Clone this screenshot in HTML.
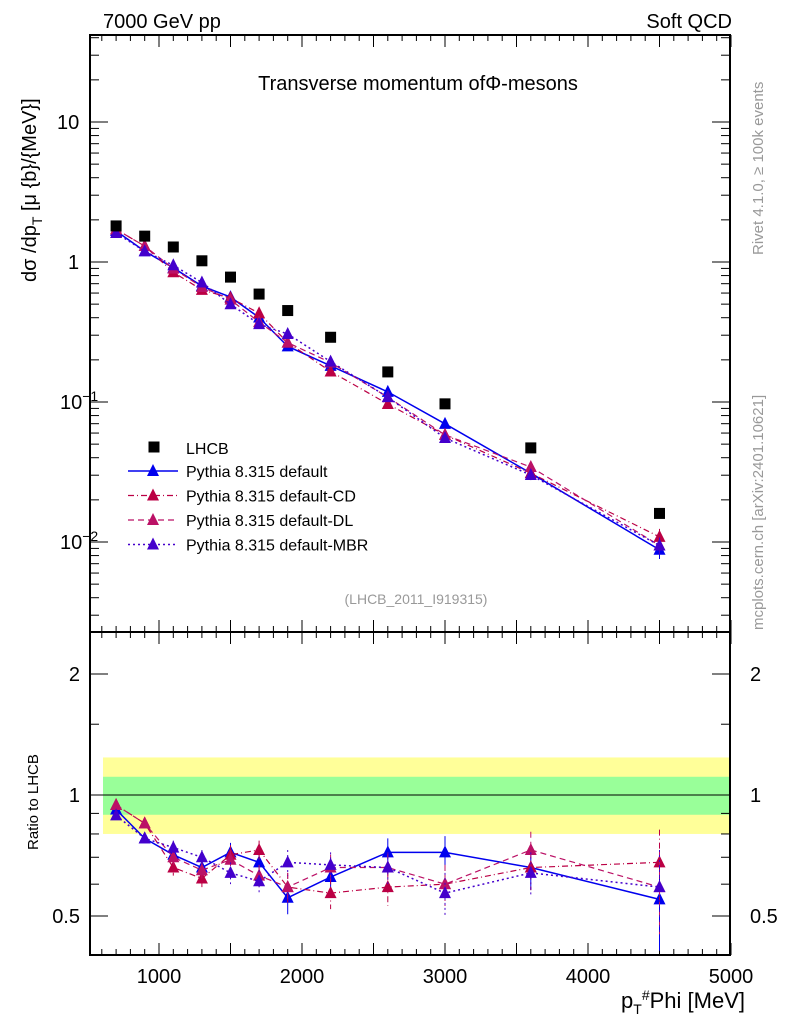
<!DOCTYPE html>
<html><head><meta charset="utf-8"><style>
body{margin:0;background:#fff;}
svg text{font-family:"Liberation Sans",sans-serif;}
</style></head><body>
<svg id="c" width="786" height="1024" xmlns="http://www.w3.org/2000/svg"></svg>
<script>
const xs=[700,900,1100,1300,1500,1700,1900,2200,2600,3000,3600,4500];
const dataVals=[1.81,1.53,1.28,1.02,0.78,0.59,0.45,0.29,0.164,0.097,0.047,0.016];
const rDefault=[0.92,0.78,0.71,0.66,0.72,0.68,0.555,0.625,0.72,0.72,0.66,0.55];
const rCD=[0.944,0.85,0.66,0.62,0.71,0.73,0.59,0.57,0.59,0.60,0.66,0.68];
const rDL=[0.944,0.85,0.70,0.65,0.69,0.63,0.59,0.66,0.66,0.60,0.73,0.59];
const rMBR=[0.89,0.78,0.74,0.70,0.64,0.61,0.68,0.67,0.66,0.57,0.64,0.59];
const rErr=[0.02,0.02,0.03,0.03,0.04,0.04,0.05,0.05,0.06,0.07,0.08,0.14];
const xTicks=[1000,2000,3000,4000,5000];
const yTicks=[10,1,0.1,0.01];
const rTicks=[2,1,0.5];

const NS="http://www.w3.org/2000/svg",svg=document.getElementById('c');
function el(t,a,p){const e=document.createElementNS(NS,t);for(const k in a)e.setAttribute(k,a[k]);(p||svg).appendChild(e);return e;}
const L=90,R=730,T=35,M=632,B=955;
const X=v=>159+(v-1000)*0.143;
const Y=v=>262-Math.log10(v)*140;
const YR=v=>795-Math.log2(v)*121;

// bands
const band=el('g',{});


el('rect',{x:103,y:YR(1.24),width:R-103,height:YR(0.80)-YR(1.24),fill:'#ffff99'},band);
el('rect',{x:103,y:YR(1.11),width:R-103,height:YR(0.893)-YR(1.11),fill:'#99ff99'},band);
el('line',{x1:L,x2:R,y1:YR(1),y2:YR(1),stroke:'#000','stroke-width':1},band);

// frames
[[T,M],[M,B]].forEach((f,i)=>{const r=el('rect',{x:L,y:f[0],width:R-L,height:f[1]-f[0],fill:'none',stroke:'#000','stroke-width':2});
});

// x ticks
for(let v=600;v<=5000;v+=100){const big=v%500===0;const x=X(v);
 [[T,1],[M,-1],[M,1],[B,-1]].forEach(([y,d])=>el('line',{x1:x,x2:x,y1:y,y2:y+d*(big?12:6),stroke:'#000','stroke-width':1}));}
xTicks.forEach(v=>{const t=el('text',{x:X(v),y:983,'font-size':20,'text-anchor':'middle'});t.textContent=v;
 });
// y log ticks
for(let d=-3;d<=1;d++)for(let m=1;m<10;m++){const v=m*Math.pow(10,d);const y=Y(v);if(y<T||y>M)continue;const w=m===1?18:9;
 el('line',{x1:L,x2:L+w,y1:y,y2:y,stroke:'#000'});el('line',{x1:R,x2:R-w,y1:y,y2:y,stroke:'#000'});}
const ylab=['10','1','10<tspan dy="-8" font-size="14">−1</tspan>','10<tspan dy="-8" font-size="14">−2</tspan>'];
const ylx=[57,68,60,60];
yTicks.forEach((v,i)=>{const t=el('text',{x:ylx[i],y:Y(v)+7,'font-size':20});t.innerHTML=ylab[i];
 });
// ratio ticks
[0.5,0.6,0.7,0.8,0.9,1,1.5,2].forEach(v=>{const y=YR(v);const w=(v===0.5||v===1||v===2)?18:9;
 el('line',{x1:L,x2:L+w,y1:y,y2:y,stroke:'#000'});el('line',{x1:R,x2:R-w,y1:y,y2:y,stroke:'#000'});});
rTicks.forEach(v=>{[[80,'end'],[750,'start']].forEach(([x,a])=>{const t=el('text',{x:x,y:YR(v)+7,'font-size':20,'text-anchor':a});t.textContent=v;
 });});

// texts
function txt(s,a,name){const t=el('text',a);t.innerHTML=s;return t;}
txt('7000 GeV pp',{x:103,y:28,'font-size':20},'energy-label');
txt('Soft QCD',{x:732,y:28,'font-size':20,'text-anchor':'end'},'process-label');
txt('Transverse momentum ofΦ-mesons',{x:418,y:90,'font-size':20,'text-anchor':'middle'},'chart-title');
txt('(LHCB_2011_I919315)',{x:416,y:604,'font-size':14,fill:'#999','text-anchor':'middle'},'analysis-id');
txt('Rivet 4.1.0, ≥ 100k events',{x:0,y:0,'font-size':15,fill:'#999',transform:'translate(763,255) rotate(-90)'},'rivet-label');
txt('mcplots.cern.ch [arXiv:2401.10621]',{x:0,y:0,'font-size':15,fill:'#999',transform:'translate(763,630) rotate(-90)'},'mcplots-label');
txt('dσ /dp<tspan dy="6" font-size="14">T</tspan><tspan dy="-6"> [μ {b}/{MeV}]</tspan>',{x:0,y:0,'font-size':20,transform:'translate(36,282) rotate(-90)'},'y-axis-title');
txt('Ratio to LHCB',{x:0,y:0,'font-size':15,transform:'translate(38,850) rotate(-90)'},'ratio-axis-title');
txt('p<tspan dy="6" font-size="14">T</tspan><tspan dy="-14" font-size="14">#</tspan><tspan dy="8">Phi [MeV]</tspan>',{x:745,y:1008,'font-size':22,'text-anchor':'end'},'x-axis-title');

// series
const series=[
 {n:'default',r:rDefault,c:'#0000ee',d:'',w:1.5},
 {n:'default-cd',r:rCD,c:'#bb0044',d:'6 3 1 3',w:1.2},
 {n:'default-dl',r:rDL,c:'#bb1166',d:'6 4',w:1.2},
 {n:'default-mbr',r:rMBR,c:'#4400cc',d:'2 3',w:1.5}];
function tri(x,y,c,g){el('polygon',{points:`${x},${y-7} ${x-6},${y+5} ${x+6},${y+5}`,fill:c},g);}
series.forEach(s=>{
 const g=el('g',{});
 const mc=s.r.map((r,i)=>r*dataVals[i]);
 el('polyline',{points:xs.map((x,i)=>X(x)+','+Y(mc[i])).join(' '),fill:'none',stroke:s.c,'stroke-width':s.w,'stroke-dasharray':s.d},g);
 el('polyline',{points:xs.map((x,i)=>X(x)+','+YR(s.r[i])).join(' '),fill:'none',stroke:s.c,'stroke-width':s.w,'stroke-dasharray':s.d},g);
 xs.forEach((x,i)=>{const e=rErr[i];
  el('line',{x1:X(x),x2:X(x),y1:YR(s.r[i]+e),y2:YR(s.r[i]-e),stroke:s.c,'stroke-dasharray':s.d},g);
  el('line',{x1:X(x),x2:X(x),y1:Y(mc[i]*(1+e)),y2:Y(mc[i]*(1-e)),stroke:s.c},g);
  tri(X(x),Y(mc[i]),s.c,g);tri(X(x),YR(s.r[i]),s.c,g);});
});
// data
const dg=el('g',{});
xs.forEach((x,i)=>el('rect',{x:X(x)-5.5,y:Y(dataVals[i])-5.5,width:11,height:11,fill:'#000'},dg));

// legend
const lg=el('g',{});
el('rect',{x:148.5,y:441.5,width:11,height:11,fill:'#000'},lg);
txt('LHCB',{x:186,y:454,'font-size':16},'legend-entry-lhcb');
series.forEach((s,i)=>{const y=471+i*24.5;
 el('line',{x1:128,x2:178,y1:y,y2:y,stroke:s.c,'stroke-width':s.w,'stroke-dasharray':s.d},lg);tri(153,y,s.c,lg);
 txt(['Pythia 8.315 default','Pythia 8.315 default-CD','Pythia 8.315 default-DL','Pythia 8.315 default-MBR'][i],{x:186,y:y+6,'font-size':16},'legend-entry-'+s.n);});
</script>
</body></html>
